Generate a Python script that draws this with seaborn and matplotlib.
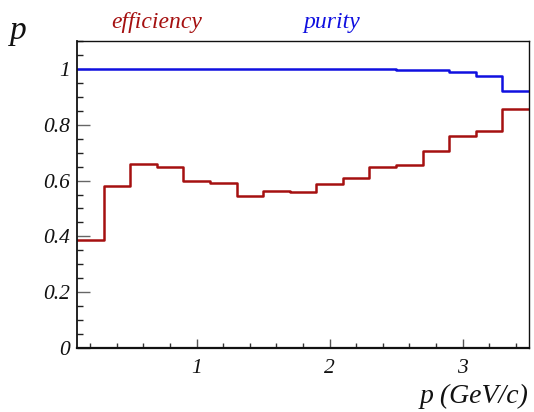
import numpy as np
import pandas as pd
import matplotlib
matplotlib.use("Agg")
import matplotlib.pyplot as plt
from matplotlib.ticker import MultipleLocator, FixedLocator
import seaborn as sns

# Momentum bin edges (GeV/c) and per-bin values
bin_edges = [0.1, 0.3, 0.5, 0.7, 0.9, 1.1, 1.3, 1.5, 1.7, 1.9, 2.1,
             2.3, 2.5, 2.7, 2.9, 3.1, 3.3, 3.5]
efficiency = [0.388, 0.581, 0.661, 0.649, 0.598, 0.592, 0.546, 0.562,
              0.558, 0.588, 0.610, 0.650, 0.654, 0.705, 0.759, 0.776, 0.856]
purity = [1.0, 1.0, 1.0, 1.0, 1.0, 1.0, 1.0, 1.0, 1.0, 1.0, 1.0, 1.0,
          0.997, 0.997, 0.990, 0.974, 0.920]
y_tick_labels = ["0", "0.2", "0.4", "0.6", "0.8", "1"]
x_tick_labels = ["1", "2", "3"]

sns.set_theme(style="white")
plt.rcParams["font.family"] = ["Liberation Serif", "DejaVu Serif"]

W, H = 534, 412
fig = plt.figure(figsize=(W / 100, H / 100), dpi=100)
fig.patch.set_facecolor("white")
ax = fig.add_axes([77 / W, (H - 348) / H, (529 - 77) / W, (348 - 41) / H])
ax.set_facecolor("white")

red = "#a51010"
blue = "#1010e0"

def step_frame(values):
    return pd.DataFrame({"p": bin_edges, "v": list(values) + [values[-1]]})

sns.lineplot(data=step_frame(purity), x="p", y="v", ax=ax, color=blue,
             drawstyle="steps-post", estimator=None, linewidth=1.8)
sns.lineplot(data=step_frame(efficiency), x="p", y="v", ax=ax, color=red,
             drawstyle="steps-post", estimator=None, linewidth=1.8)

ax.set_xlim(0.1, 3.5)
ax.set_ylim(0, 1.1)
ax.set_xlabel("")
ax.set_ylabel("")

ax.xaxis.set_major_locator(FixedLocator([1, 2, 3]))
ax.xaxis.set_minor_locator(MultipleLocator(0.2))
ax.set_xticklabels(x_tick_labels)
ax.yaxis.set_major_locator(FixedLocator([0, 0.2, 0.4, 0.6, 0.8, 1.0]))
ax.yaxis.set_minor_locator(MultipleLocator(0.05))
ax.set_yticklabels(y_tick_labels)

for lab in ax.get_xticklabels() + ax.get_yticklabels():
    lab.set_fontstyle("italic")
    lab.set_fontsize(15.5)
    lab.set_color("#111111")

ax.tick_params(axis="y", which="major", direction="in", length=9.4, width=1.0,
               color="#666666", pad=5, left=True, right=False)
ax.tick_params(axis="y", which="minor", direction="in", length=4.5, width=1.0,
               color="#222222", left=True, right=False)
ax.tick_params(axis="x", which="major", direction="in", length=6.5, width=1.0,
               color="#555555", pad=8, bottom=True, top=False)
ax.tick_params(axis="x", which="minor", direction="in", length=3.6, width=1.0,
               color="#333333", bottom=True, top=False)

for name, sp in ax.spines.items():
    sp.set_visible(True)
    sp.set_color("#111111")
    sp.set_linewidth(1.0)
ax.spines["bottom"].set_linewidth(1.6)
ax.spines["left"].set_linewidth(1.3)

fig.text(10 / W, 1 - 39 / H, "p", fontsize=24, fontstyle="italic",
         color="#111111", ha="left", va="baseline")
fig.text(111 / W, 1 - 28 / H, "efficiency", fontsize=17, fontstyle="italic",
         color=red, ha="left", va="baseline")
fig.text(303 / W, 1 - 28 / H, "purity", fontsize=17, fontstyle="italic",
         color=blue, ha="left", va="baseline")
fig.text(528 / W, 1 - 403 / H, "p (GeV/c)", fontsize=20, fontstyle="italic",
         color="#111111", ha="right", va="baseline")

fig.savefig("out.png", dpi=100, facecolor="white")
